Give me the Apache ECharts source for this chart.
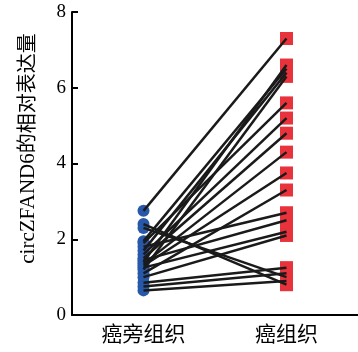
<!DOCTYPE html>
<html><head><meta charset="utf-8">
<script src="https://cdn.jsdelivr.net/npm/echarts@6/dist/echarts.min.js"></script>
<style>html,body{margin:0;padding:0;background:#fff}#c{width:358px;height:352px}</style>
</head><body><div id="c"></div>
<script>
var categories = ['癌旁组织', '癌组织'];
var yTicks = [0, 2, 4, 6, 8];
var adjacentValues = [2.75, 2.4, 2.3, 1.95, 1.9, 1.8, 1.7, 1.6, 1.5, 1.45, 1.4, 1.35, 1.3, 1.25, 1.2, 1.1, 1.0, 0.85, 0.75, 0.65];
var tumorValues    = [7.3, 0.8, 1.0, 6.5, 5.6, 2.7, 6.4, 5.2, 4.8, 2.5, 6.6, 4.3, 3.75, 2.2, 6.3, 3.3, 2.1, 1.25, 1.1, 0.9];

var chart = echarts.init(document.getElementById('c'), null, {renderer: 'canvas'});
var series = [];
series.push({
  type: 'scatter', symbol: 'circle', symbolSize: 12, z: 2,
  itemStyle: {color: '#2858A8', opacity: 1},
  data: adjacentValues.map(function (v) { return [categories[0], v]; })
});
series.push({
  type: 'scatter', symbol: 'rect', symbolSize: 13, z: 2,
  itemStyle: {color: '#E8333C', opacity: 1},
  data: tumorValues.map(function (v) { return [categories[1], v]; })
});
for (var i = 0; i < adjacentValues.length; i++) {
  series.push({
    type: 'line', symbol: 'none', z: 3, silent: true,
    lineStyle: {color: '#1a1a1a', width: 2.5},
    data: [[categories[0], adjacentValues[i]], [categories[1], tumorValues[i]]]
  });
}
var serif = "'Liberation Serif', 'DejaVu Serif', 'Noto Sans CJK SC', serif";
chart.setOption({
  animation: false,
  grid: {left: 72, right: 0, top: 12, bottom: 37},
  xAxis: {
    type: 'category', data: categories, boundaryGap: true,
    axisLine: {lineStyle: {color: '#000', width: 2}},
    axisTick: {inside: true, alignWithLabel: true, length: 6, lineStyle: {color: '#000', width: 2}},
    axisLabel: {color: '#000', fontSize: 21, margin: 10, fontFamily: serif},
    splitLine: {show: false}
  },
  yAxis: {
    type: 'value', min: yTicks[0], max: yTicks[yTicks.length - 1], interval: 2,
    name: '{a|circZFAND6}{b|的相对表达量}', nameLocation: 'middle', nameGap: 33,
    nameTextStyle: {
      color: '#000', fontFamily: serif, padding: [0, 0, 0, 30],
      rich: {
        a: {fontSize: 21, fontFamily: serif, color: '#000'},
        b: {fontSize: 20, fontFamily: serif, color: '#000'}
      }
    },
    axisLine: {show: true, lineStyle: {color: '#000', width: 2}},
    axisTick: {show: true, inside: true, length: 6, lineStyle: {color: '#000', width: 2}},
    axisLabel: {color: '#000', fontSize: 19, margin: 6, fontFamily: serif},
    splitLine: {show: false}
  },
  series: series
});
</script></body></html>
